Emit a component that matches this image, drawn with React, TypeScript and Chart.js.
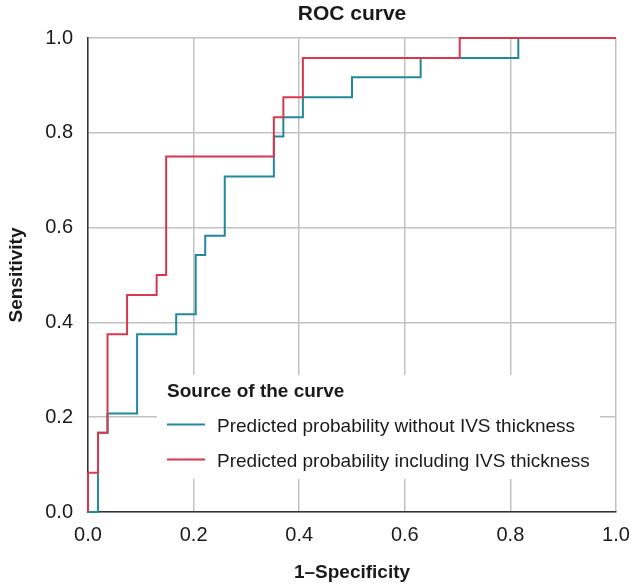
import React, { useEffect, useRef } from "react";
import { Chart, registerables } from "chart.js";

Chart.register(...registerables);

// ROC step curves: corner points of each curve (1 - specificity, sensitivity)
const withoutIvsFpr = [0, 0.019, 0.019, 0.037, 0.037, 0.093, 0.093, 0.167, 0.167, 0.204, 0.204, 0.222, 0.222, 0.259, 0.259, 0.352, 0.352, 0.37, 0.37, 0.407, 0.407, 0.5, 0.5, 0.63, 0.63, 0.815, 0.815, 1.0];
const withoutIvsTpr = [0, 0, 0.167, 0.167, 0.208, 0.208, 0.375, 0.375, 0.417, 0.417, 0.542, 0.542, 0.583, 0.583, 0.708, 0.708, 0.792, 0.792, 0.833, 0.833, 0.875, 0.875, 0.917, 0.917, 0.958, 0.958, 1.0, 1.0];

const includingIvsFpr = [0, 0, 0.019, 0.019, 0.037, 0.037, 0.074, 0.074, 0.13, 0.13, 0.148, 0.148, 0.352, 0.352, 0.37, 0.37, 0.407, 0.407, 0.704, 0.704, 1.0];
const includingIvsTpr = [0, 0.083, 0.083, 0.167, 0.167, 0.375, 0.375, 0.458, 0.458, 0.5, 0.5, 0.75, 0.75, 0.833, 0.833, 0.875, 0.875, 0.958, 0.958, 1.0, 1.0];

const seriesLabels = [
  "Predicted probability without IVS thickness",
  "Predicted probability including IVS thickness",
];
const seriesColors = ["#23899a", "#d6394f"];

const chartTitle = "ROC curve";
const legendTitle = "Source of the curve";
const xTitle = "1\u2013Specificity";
const yTitle = "Sensitivity";

const FONT = '"Liberation Sans", Arial, Helvetica, sans-serif';
const TEXT = "#1a1a1a";

const toPoints = (xs: number[], ys: number[]) => xs.map((x, i) => ({ x, y: ys[i] }));

// Chart title and the in-plot legend box
const decorations = {
  id: "rocDecorations",
  beforeDatasetsDraw(chart: any) {
    const { ctx } = chart;
    ctx.save();
    ctx.fillStyle = "#ffffff";
    ctx.fillRect(157, 375, 443, 104);

    ctx.fillStyle = TEXT;
    ctx.textBaseline = "alphabetic";
    ctx.textAlign = "left";
    ctx.font = `bold 19px ${FONT}`;
    ctx.fillText(legendTitle, 167, 397);

    ctx.font = `19px ${FONT}`;
    const rows = [424.5, 459.5];
    seriesLabels.forEach((label, i) => {
      ctx.strokeStyle = seriesColors[i];
      ctx.lineWidth = 2;
      ctx.beginPath();
      ctx.moveTo(167, rows[i]);
      ctx.lineTo(205, rows[i]);
      ctx.stroke();
      ctx.fillStyle = TEXT;
      ctx.fillText(label, 217, rows[i] + 7.3);
    });
    ctx.restore();
  },
  afterDraw(chart: any) {
    const { ctx, chartArea } = chart;
    ctx.save();
    ctx.fillStyle = TEXT;
    ctx.font = `bold 21px ${FONT}`;
    ctx.textAlign = "center";
    ctx.textBaseline = "alphabetic";
    ctx.fillText(chartTitle, (chartArea.left + chartArea.right) / 2, 19.5);
    ctx.restore();
  },
};

export default function App() {
  const canvasRef = useRef<HTMLCanvasElement | null>(null);

  useEffect(() => {
    document.body.style.margin = "0";
    const canvas = canvasRef.current;
    if (!canvas) return;

    const chart = new Chart(canvas, {
      type: "line",
      data: {
        datasets: [
          {
            label: seriesLabels[0],
            data: toPoints(withoutIvsFpr, withoutIvsTpr),
            borderColor: seriesColors[0],
            borderWidth: 2,
            pointRadius: 0,
            tension: 0,
            fill: false,
            clip: false as any,
            order: 1,
          },
          {
            label: seriesLabels[1],
            data: toPoints(includingIvsFpr, includingIvsTpr),
            borderColor: seriesColors[1],
            borderWidth: 2,
            pointRadius: 0,
            tension: 0,
            fill: false,
            clip: false as any,
            order: 0,
          },
        ],
      },
      options: {
        responsive: false,
        animation: false,
        devicePixelRatio: 1,
        layout: { padding: { top: 38, right: 15, left: 0, bottom: 0 } },
        plugins: {
          legend: { display: false },
          tooltip: { enabled: false },
          title: { display: false },
        },
        scales: {
          x: {
            type: "linear",
            min: 0,
            max: 1,
            afterFit: (scale: any) => {
              scale.height = 74;
              scale.paddingLeft = 0;
              scale.paddingRight = 0;
            },
            ticks: {
              stepSize: 0.2,
              padding: 11,
              color: TEXT,
              font: { family: FONT, size: 20 },
              callback: (v: any) => Number(v).toFixed(1),
              maxRotation: 0,
            },
            grid: { color: "#c2c2c2", lineWidth: 1.5, drawTicks: false },
            border: { color: "#333333", width: 1.5 },
            title: {
              display: true,
              text: xTitle,
              color: TEXT,
              font: { family: FONT, size: 19, weight: "bold" },
              padding: { top: 0, bottom: 2 },
            },
          },
          y: {
            type: "linear",
            min: 0,
            max: 1,
            afterFit: (scale: any) => {
              scale.width = 88;
              scale.paddingTop = 0;
              scale.paddingBottom = 0;
            },
            ticks: {
              stepSize: 0.2,
              padding: 15,
              color: TEXT,
              font: { family: FONT, size: 20 },
              callback: (v: any) => Number(v).toFixed(1),
            },
            grid: { color: "#c2c2c2", lineWidth: 1.5, drawTicks: false },
            border: { color: "#333333", width: 1.5 },
            title: {
              display: true,
              text: yTitle,
              color: TEXT,
              font: { family: FONT, size: 19, weight: "bold" },
              padding: { top: 5, bottom: 0 },
            },
          },
        },
      },
      plugins: [decorations],
    });

    return () => chart.destroy();
  }, []);

  return (
    <div style={{ width: 631, height: 586, background: "#ffffff" }}>
      <canvas ref={canvasRef} width={631} height={586} style={{ display: "block" }} />
    </div>
  );
}
